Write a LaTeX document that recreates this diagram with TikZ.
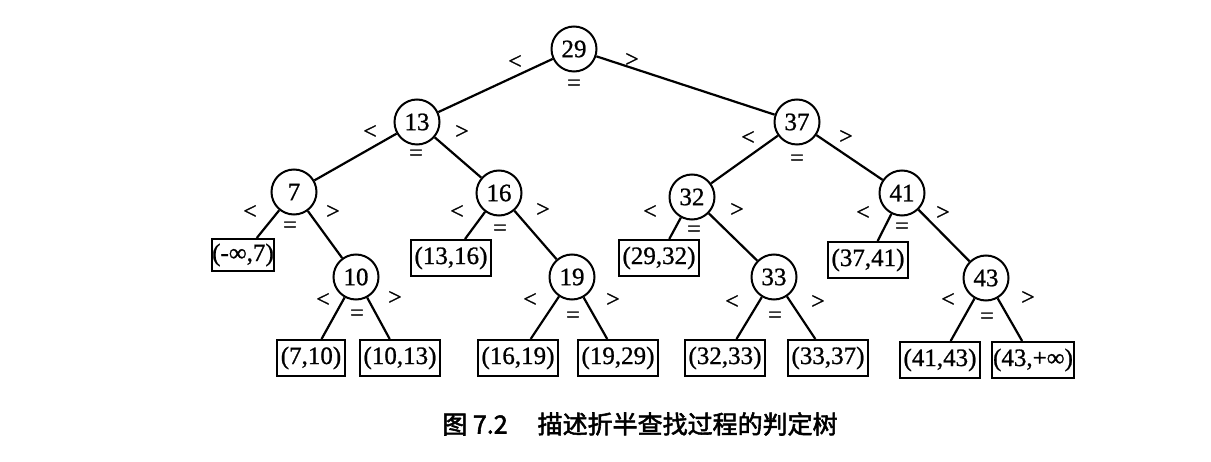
\documentclass[tikz,border=0pt]{standalone}
\usepackage{fontspec}
\setmainfont{Liberation Serif}
\newfontfamily\numfont{Liberation Serif}[FakeBold=0.9]
\newfontfamily\cjk{Noto Sans CJK SC}[FakeBold=2.2]
\begin{document}
\begin{tikzpicture}[x=1pt,y=-1pt,
  every node/.style={font=\numfont\fontsize{25}{28}\selectfont},
  knode/.style={draw,circle,line width=2pt,minimum size=45pt,inner sep=0pt},
  leafbox/.style={draw,rectangle,line width=2pt,minimum height=36pt,inner xsep=3.5pt,inner ysep=0pt},
  edge/.style={line width=2.2pt},
  cmp/.style={inner sep=0pt,font=\numfont\fontsize{24}{26}\selectfont}
]
\useasboundingbox (0,0) rectangle (1211,462);
% internal nodes
\node[knode] (n29) at (574,49) {29};
\node[knode] (n13) at (417,122) {13};
\node[knode] (n37) at (797,122) {37};
\node[knode] (n7) at (294,192) {7};
\node[knode] (n16) at (499,193) {16};
\node[knode] (n32) at (692,197) {32};
\node[knode] (n41) at (902,193) {41};
\node[knode] (n10) at (356,277) {10};
\node[knode] (n19) at (572,277) {19};
\node[knode] (n33) at (774,277) {33};
\node[knode] (n43) at (986,278) {43};
% leaves
\node[leafbox,inner xsep=0.5pt,minimum height=32pt] (bm7) at (243,255) {(-∞,7)};
\node[leafbox] (b1316) at (451,258) {(13,16)};
\node[leafbox] (b2932) at (659,258) {(29,32)};
\node[leafbox] (b3741) at (868,260) {(37,41)};
\node[leafbox] (b710) at (311,358) {(7,10)};
\node[leafbox] (b1013) at (400,358) {(10,13)};
\node[leafbox] (b1619) at (518,358) {(16,19)};
\node[leafbox] (b1929) at (618,358) {(19,29)};
\node[leafbox] (b3233) at (725,358) {(32,33)};
\node[leafbox] (b3337) at (828,358) {(33,37)};
\node[leafbox] (b4143) at (940,360) {(41,43)};
\node[leafbox,inner xsep=1pt] (b43inf) at (1033,360) {(43,+∞)};
% edges
\draw[edge] (n29) -- (n13);
\draw[edge] (n29) -- (n37);
\draw[edge] (n13) -- (n7);
\draw[edge] (n13) -- (n16);
\draw[edge] (n7) -- (bm7);
\draw[edge] (n7) -- (n10);
\draw[edge] (n10) -- (b710);
\draw[edge] (n10) -- (b1013);
\draw[edge] (n16) -- (b1316);
\draw[edge] (n16) -- (n19);
\draw[edge] (n19) -- (b1619);
\draw[edge] (n19) -- (b1929);
\draw[edge] (n37) -- (n32);
\draw[edge] (n37) -- (n41);
\draw[edge] (n32) -- (b2932);
\draw[edge] (n32) -- (n33);
\draw[edge] (n33) -- (b3233);
\draw[edge] (n33) -- (b3337);
\draw[edge] (n41) -- (b3741);
\draw[edge] (n41) -- (n43);
\draw[edge] (n43) -- (b4143);
\draw[edge] (n43) -- (b43inf);
% comparison labels
\node[cmp] (l29a) at (515,62) {<};
\node[cmp] (l29b) at (632,60) {>};
\node[cmp] (l29c) at (574,85) {=};
\node[cmp] (l13a) at (370,132) {<};
\node[cmp] (l13b) at (462,132) {>};
\node[cmp] (l13c) at (416,155) {=};
\node[cmp] (l37a) at (748,138) {<};
\node[cmp] (l37b) at (846,137) {>};
\node[cmp] (l37c) at (797,160) {=};
\node[cmp] (l7a) at (250,212) {<};
\node[cmp] (l7b) at (333,212) {>};
\node[cmp] (l7c) at (290,227) {=};
\node[cmp] (l16a) at (457,212) {<};
\node[cmp] (l16b) at (543,210) {>};
\node[cmp] (l16c) at (500,230) {=};
\node[cmp] (l32a) at (650,212) {<};
\node[cmp] (l32b) at (737,210) {>};
\node[cmp] (l32c) at (694,231) {=};
\node[cmp] (l41a) at (863,213) {<};
\node[cmp] (l41b) at (943,213) {>};
\node[cmp] (l41c) at (902,228) {=};
\node[cmp] (l10a) at (323,300) {<};
\node[cmp] (l10b) at (395,298) {>};
\node[cmp] (l10c) at (357,315) {=};
\node[cmp] (l19a) at (530,300) {<};
\node[cmp] (l19b) at (613,300) {>};
\node[cmp] (l19c) at (573,317) {=};
\node[cmp] (l33a) at (732,302) {<};
\node[cmp] (l33b) at (818,302) {>};
\node[cmp] (l33c) at (775,317) {=};
\node[cmp] (l43a) at (948,300) {<};
\node[cmp] (l43b) at (1028,298) {>};
\node[cmp] (l43c) at (987,318) {=};
% caption
\node[inner sep=0pt,font=\cjk\fontsize{25}{28}\selectfont] (cap) at (640,424) {图 7.2\hspace{1.2em}描述折半查找过程的判定树};
\end{tikzpicture}
\end{document}
